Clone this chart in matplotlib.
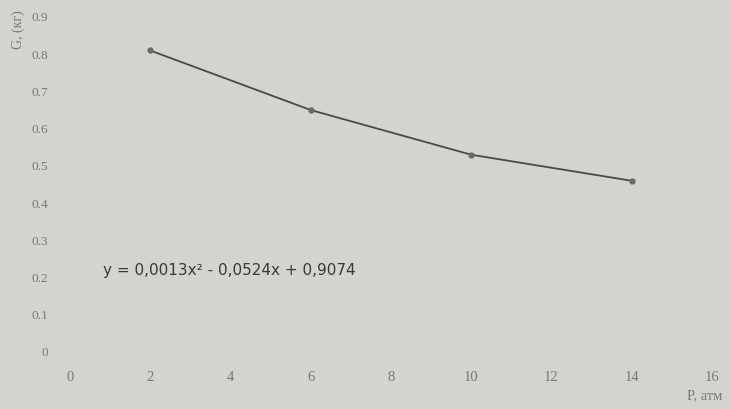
import matplotlib.pyplot as plt
import numpy as np

# data
pressure = [2, 6, 10, 14]
mass = [0.81, 0.65, 0.53, 0.46]
x_ticks = [0, 2, 4, 6, 8, 10, 12, 14, 16]
y_ticks = [0, 0.1, 0.2, 0.3, 0.4, 0.5, 0.6, 0.7, 0.8, 0.9]
equation = "y = 0,0013x² - 0,0524x + 0,9074"

bg = '#d5d3cd'
txt = '#7a7874'

fig = plt.figure(figsize=(7.31, 4.09), dpi=100, facecolor=bg)
ax = fig.add_axes([70/731, 57/409, 642/731, 335/409])
ax.set_facecolor(bg)
ax.set_xlim(0, 16)
ax.set_ylim(0, 0.9)

ax.plot(pressure, mass, color='#4a4946', linewidth=1.3, marker='o',
        markersize=3.5, markerfacecolor='#6a6965', markeredgecolor='#6a6965')

for s in ax.spines.values():
    s.set_visible(False)
ax.tick_params(length=0, colors=txt)
ax.set_xticks(x_ticks)
ax.set_xticklabels([str(v) for v in x_ticks], fontfamily='Liberation Serif',
                   fontsize=10.5, color=txt)
ax.set_yticks(y_ticks)
ax.set_yticklabels(['0'] + ['%.1f' % v for v in y_ticks[1:]],
                   fontfamily='Liberation Serif', fontsize=9.5, color=txt)
ax.tick_params(axis='x', pad=14)
ax.tick_params(axis='y', pad=16)

fig.text(18/731, 1 - 30/409, 'G, (кг)', rotation=90, ha='center', va='center',
         fontfamily='Liberation Serif', fontsize=10, color=txt)
fig.text(705/731, 1 - 396/409, 'P, атм', ha='center', va='center',
         fontfamily='Liberation Serif', fontsize=10.5, color=txt)
ax.text(0.82, 0.22, equation, ha='left', va='center', fontfamily='DejaVu Sans',
        fontsize=11, color='#3a3936')

fig.savefig('out.png', dpi=100, facecolor=bg)
